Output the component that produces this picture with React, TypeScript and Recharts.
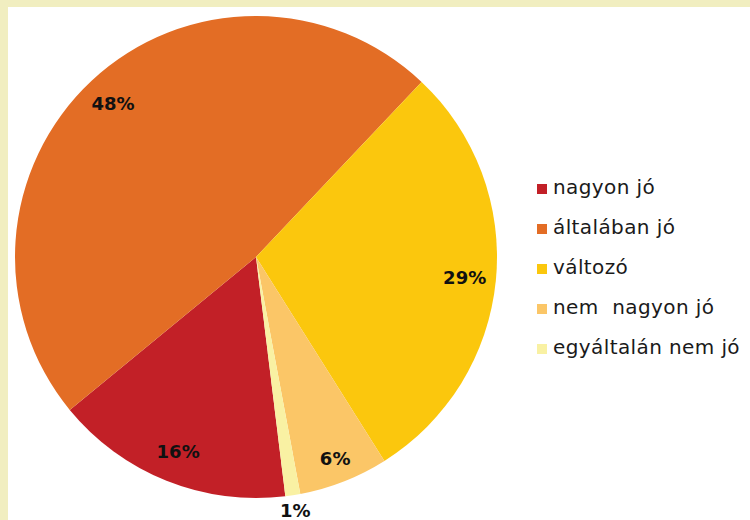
import { PieChart, Pie, Cell } from 'recharts';

// Answer categories and their share (%)
const categories = ['nagyon jó', 'általában jó', 'változó', 'nem  nagyon jó', 'egyáltalán nem jó'];
const shares = [16, 48, 29, 6, 1];
const colors = ['#c22027', '#e36d25', '#fbc70d', '#fbc667', '#f9f1a3'];

const data = categories.map((name, i) => ({ name, value: shares[i] }));

const RAD = Math.PI / 180;

// percent labels inside the slices, the tiny one sits outside
const renderLabel = (props: any) => {
  const { cx, cy, midAngle, outerRadius, value } = props;
  const r = value < 3 ? outerRadius * 1.065 : value < 10 ? outerRadius * 0.9 : outerRadius * 0.87;
  const x = cx + r * Math.cos(-midAngle * RAD);
  const y = cy + r * Math.sin(-midAngle * RAD);
  return (
    <text
      x={x}
      y={y}
      textAnchor="middle"
      dominantBaseline="central"
      fill="#111"
      fontSize={18}
      fontWeight="bold"
      fontFamily="DejaVu Sans, sans-serif"
    >
      {`${value}%`}
    </text>
  );
};

export default function App() {
  return (
    <div
      style={{
        position: 'fixed',
        left: 0,
        top: 0,
        width: 750,
        height: 520,
        background: '#f1eec0',
        overflow: 'hidden',
      }}
    >
      <div style={{ position: 'absolute', left: 8, top: 7, width: 742, height: 513, background: '#fff' }}>
        <PieChart width={742} height={513} margin={{ top: 0, right: 0, bottom: 0, left: 0 }}>
          <Pie
            data={data}
            dataKey="value"
            nameKey="name"
            cx={248}
            cy={250}
            outerRadius={241}
            startAngle={277}
            endAngle={-83}
            stroke="none"
            labelLine={false}
            label={renderLabel}
            isAnimationActive={false}
          >
            {data.map((d, i) => (
              <Cell key={d.name} fill={colors[i]} />
            ))}
          </Pie>
        </PieChart>
        <div
          style={{
            position: 'absolute',
            left: 529,
            top: 160,
            fontFamily: 'DejaVu Sans, sans-serif',
            fontSize: 20,
            letterSpacing: 0.4,
            color: '#1a1a1a',
          }}
        >
          {categories.map((c, i) => (
            <div key={c} style={{ display: 'flex', alignItems: 'center', height: 40, whiteSpace: 'pre' }}>
              <span style={{ width: 10, height: 10, background: colors[i], marginRight: 6, marginTop: 3 }} />
              {c}
            </div>
          ))}
        </div>
      </div>
    </div>
  );
}
